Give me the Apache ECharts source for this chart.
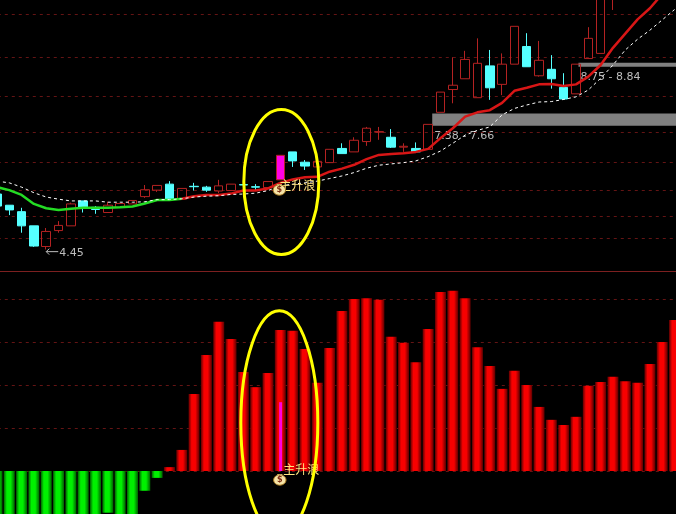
<!DOCTYPE html>
<html><head><meta charset="utf-8">
<style>html,body{margin:0;padding:0;background:#000;overflow:hidden}#c{width:676px;height:514px}</style>
<script src="https://cdn.jsdelivr.net/npm/echarts@6/dist/echarts.min.js"></script>
</head><body><div id="c"></div>
<script>
// [open, close, low, high]
const candles = [
[5.79,5.51,5.51,5.79],[5.53,5.42,5.30,5.53],[5.38,5.05,4.89,5.47],[5.05,4.58,4.56,5.05],[4.57,4.92,4.50,5.00],
[4.94,5.06,4.89,5.16],[5.05,5.56,5.05,5.59],[5.63,5.48,5.36,5.63],[5.48,5.43,5.33,5.51],[5.36,5.53,5.36,5.61],
[5.48,5.57,5.48,5.57],[5.56,5.64,5.56,5.64],[5.73,5.89,5.70,6.00],[5.88,5.99,5.84,5.99],[6.02,5.67,5.67,6.09],
[5.67,5.92,5.67,5.92],[5.97,5.96,5.87,6.05],[5.95,5.88,5.84,5.98],[5.86,5.98,5.81,6.12],[5.87,6.02,5.87,6.02],
[6.01,6.00,5.88,6.05],[5.96,5.95,5.87,6.02],[5.94,6.08,5.94,6.08],[6.12,6.69,6.12,6.69],[6.77,6.56,6.42,6.77],
[6.53,6.44,6.35,6.58],[6.42,6.55,6.42,6.55],[6.52,6.83,6.52,6.83],[6.85,6.73,6.73,6.97],[6.77,7.04,6.77,7.11],
[7.01,7.32,6.91,7.35],[7.23,7.24,7.05,7.35],[7.11,6.88,6.86,7.30],[6.88,6.90,6.77,6.97],[6.85,6.77,6.77,6.99],
[6.83,7.41,6.83,7.41],[7.69,8.16,7.69,8.16],[8.22,8.32,7.90,8.97],[8.47,8.92,8.47,9.12],[8.03,8.83,8.03,9.41],
[8.77,8.26,7.98,9.14],[8.34,8.81,8.09,9.06],[8.81,9.69,8.81,9.69],[9.22,8.75,8.75,9.53],[8.54,8.90,8.52,9.35],
[8.69,8.47,8.24,9.02],[8.27,8.00,7.98,8.60],[8.12,8.81,8.12,8.81],[8.94,9.41,8.94,9.67],[9.06,10.60,9.06,10.60],
[10.60,10.95,10.07,11.00]];
const thickLine = [5.95,5.88,5.77,5.56,5.46,5.42,5.45,5.47,5.47,5.47,5.48,5.50,5.57,5.65,5.65,5.68,5.74,5.77,5.77,5.80,
5.87,5.87,5.92,6.05,6.13,6.18,6.19,6.31,6.38,6.47,6.60,6.70,6.72,6.74,6.77,6.84,7.09,7.32,7.59,7.69,
7.74,7.91,8.19,8.26,8.34,8.35,8.30,8.34,8.52,8.79,9.19,9.52,9.85,10.11,10.44,10.77];
const whiteLine = [6.09,6.05,5.95,5.82,5.72,5.67,5.63,5.63,5.63,5.60,5.60,5.60,5.61,5.66,5.66,5.68,5.72,5.74,5.75,5.78,
5.79,5.81,5.87,5.98,6.02,6.05,6.09,6.15,6.21,6.29,6.39,6.46,6.49,6.52,6.56,6.66,6.79,6.97,7.16,7.27,
7.35,7.63,7.78,7.86,7.93,7.94,7.99,8.05,8.21,8.48,8.79,9.14,9.39,9.60,9.84,10.08];
const histogram = [-1,-1,-1,-1,-1,-1,-1,-1,-1,-0.97,-1,-1,-0.46,-0.16,0.09,0.49,1.79,2.70,3.47,3.07,
2.30,1.95,2.28,3.28,3.26,2.84,2.05,2.86,3.72,4.00,4.02,3.98,3.12,2.98,2.53,3.30,4.16,4.19,4.02,2.88,
2.44,1.91,2.33,2.00,1.49,1.19,1.07,1.26,1.98,2.07,2.19,2.09,2.05,2.49,3.00,3.51];
const priceGridValues = [9.98,8.98,8.07,7.23,6.53,5.88,5.28,4.77];
const bands = [[35.33,7.38,7.66,'7.38 - 7.66'],[47.2,8.75,8.84,'8.75 - 8.84']];
const lowNote = [4,4.45,'4.45'];
const signalIndex = 23;
const signalTopValue = 6.07;
const signalBottomValue = 1.12;
const signalBarValue = 1.60;
const signalText = '主升浪';
const lineSplit = 15;
const categories = thickLine.map((_, i) => String(i));

const RED='#b42222', CYAN='#55ffff', GRAY='#bdbdbd', YELLOW='#ffff00';
const band=12.32, left=-9.2, width=band*categories.length;
const vert=(a,b)=>new echarts.graphic.LinearGradient(0,0,1,0,[
  {offset:0,color:a},{offset:.28,color:b},{offset:.62,color:b},{offset:1,color:a}]);
const redFill=vert('#5c0000','#f80000'), greenFill=vert('#006000','#00f000');

function bag(api,x,y){
  return {type:'group',children:[
    {type:'rect',shape:{x:x-2.5,y:y-6,width:5,height:3},style:{fill:'#f2dc9a'}},
    {type:'ellipse',shape:{cx:x,cy:y,rx:6.2,ry:5.2},style:{fill:'#f6e3a6',stroke:'#a87a20',lineWidth:1}},
    {type:'text',style:{x:x,y:y,text:'$',fill:'#7a2a10',font:'bold 8px "DejaVu Sans"',align:'center',verticalAlign:'middle'}}
  ]};
}
const notesSeries = {
  type:'custom',xAxisIndex:2,yAxisIndex:0,clip:false,silent:true,z:4,
  encode:{x:0,y:[1,2]},
  data:bands,
  renderItem(p,api){
    const a=api.coord([api.value(0),api.value(2)]);
    const b=api.coord([api.value(0),api.value(1)]);
    return {type:'group',children:[
      {type:'rect',shape:{x:a[0],y:a[1],width:700-a[0],height:b[1]-a[1]},style:{fill:'#808080'}},
      {type:'text',style:{x:a[0]+2,y:b[1]+10,text:bands[p.dataIndex][3],fill:GRAY,font:'11px "DejaVu Sans"',align:'left',verticalAlign:'middle'}}
    ]};
  }
};
const lowSeries = {
  type:'custom',xAxisIndex:0,yAxisIndex:0,clip:false,silent:true,z:4,
  encode:{x:0,y:1},data:[lowNote],
  renderItem(p,api){
    const c=api.coord([api.value(0),api.value(1)]);
    const x=c[0],y=c[1];
    return {type:'group',children:[
      {type:'polyline',shape:{points:[[x+12,y],[x,y]]},style:{stroke:GRAY,lineWidth:1,fill:null}},
      {type:'polyline',shape:{points:[[x+3,y-3],[x,y],[x+3,y+3]]},style:{stroke:GRAY,lineWidth:1,fill:null}},
      {type:'text',style:{x:x+13,y:y+1,text:lowNote[2],fill:GRAY,font:'11px "DejaVu Sans"',align:'left',verticalAlign:'middle'}}
    ]};
  }
};
const topSignal = {
  type:'custom',xAxisIndex:0,yAxisIndex:0,clip:false,silent:true,z:12,
  encode:{x:0,y:1},data:[[signalIndex,signalTopValue]],
  renderItem(p,api){
    const c=api.coord([api.value(0),api.value(1)]);
    return {type:'group',children:[
      {type:'text',style:{x:c[0]-1,y:c[1]+3,text:signalText,fill:'#ffe680',font:'12px "Noto Sans CJK SC"',align:'left',verticalAlign:'middle'}},
      bag(api,c[0]-1,c[1]+8),
      {type:'ellipse',shape:{cx:c[0]+1,cy:c[1],rx:37.5,ry:72.5},style:{fill:null,stroke:YELLOW,lineWidth:3}}
    ]};
  }
};
const bottomSignal = {
  type:'custom',xAxisIndex:1,yAxisIndex:1,clip:false,silent:true,z:12,
  encode:{x:0,y:1},data:[[signalIndex,signalBottomValue,signalBarValue]],
  renderItem(p,api){
    const c=api.coord([api.value(0),api.value(1)]);
    const base=api.coord([api.value(0),0]), top=api.coord([api.value(0),api.value(2)]);
    return {type:'group',children:[
      {type:'rect',shape:{x:base[0]-1.2,y:top[1],width:3,height:base[1]-top[1]},style:{fill:'#ff00e0'}},
      {type:'text',style:{x:base[0]+3,y:base[1]-2,text:signalText,fill:'#ffe680',font:'12px "Noto Sans CJK SC"',align:'left',verticalAlign:'middle'}},
      bag(api,base[0]-0.5,base[1]+9),
      {type:'ellipse',shape:{cx:c[0]-1,cy:c[1],rx:38.5,ry:112},style:{fill:null,stroke:YELLOW,lineWidth:3}}
    ]};
  }
};
const option = {
  backgroundColor:'#000',animation:false,
  grid:[
    {left,top:0,width,height:271,containLabel:false,outerBoundsMode:'none'},
    {left,top:271,width,height:243,containLabel:false,outerBoundsMode:'none'}
  ],
  xAxis:[
    {type:'category',gridIndex:0,data:categories,show:false,boundaryGap:true},
    {type:'category',gridIndex:1,data:categories,position:'top',boundaryGap:true,
     axisLine:{show:true,onZero:false,lineStyle:{color:'#7c2020',width:1}},axisTick:{show:false},axisLabel:{show:false},splitLine:{show:false}},
    {type:'value',gridIndex:0,min:-0.5,max:categories.length-0.5,show:false}
  ],
  yAxis:[
    {type:'value',gridIndex:0,min:4,max:10.302,show:false,splitLine:{show:false}},
    {type:'value',gridIndex:1,min:-1,max:4.651,interval:1,axisLine:{show:false},axisTick:{show:false},axisLabel:{show:false},
     splitLine:{show:true,lineStyle:{color:'#641414',type:[3,4],width:1}}}
  ],
  series:[
    {type:'line',xAxisIndex:0,yAxisIndex:0,data:[],silent:true,z:1,
     markLine:{silent:true,symbol:'none',animation:false,label:{show:false},
       lineStyle:{color:'#641414',type:[3,4],width:1},
       data:priceGridValues.map(v=>({yAxis:v}))}},
    notesSeries,
    {type:'candlestick',xAxisIndex:0,yAxisIndex:0,barWidth:9,z:5,silent:true,
     itemStyle:{color:'transparent',color0:CYAN,borderColor:RED,borderColor0:CYAN,borderWidth:1},
     data:candles.map((c,i)=>i===signalIndex?{value:c,itemStyle:{color:'#ff00e6',borderColor:RED}}:c)},
    {type:'line',xAxisIndex:0,yAxisIndex:0,symbol:'none',silent:true,z:6,
     lineStyle:{color:'#24dc24',width:2.5},data:thickLine.map((v,i)=>i<=lineSplit?v:null)},
    {type:'line',xAxisIndex:0,yAxisIndex:0,symbol:'none',silent:true,z:6,
     lineStyle:{color:'#d81616',width:2.5},data:thickLine.map((v,i)=>i>=lineSplit?v:null)},
    {type:'line',xAxisIndex:0,yAxisIndex:0,symbol:'none',silent:true,z:7,
     lineStyle:{color:'#ffffff',width:1,type:[3,3]},data:whiteLine},
    lowSeries,
    topSignal,
    {type:'bar',xAxisIndex:1,yAxisIndex:1,barWidth:11,silent:true,z:3,
     itemStyle:{color:p=>p.value>=0?redFill:greenFill},data:histogram},
    bottomSignal
  ]
};
const chart=echarts.init(document.getElementById('c'),null,{renderer:'canvas'});
chart.setOption(option);
</script></body></html>
